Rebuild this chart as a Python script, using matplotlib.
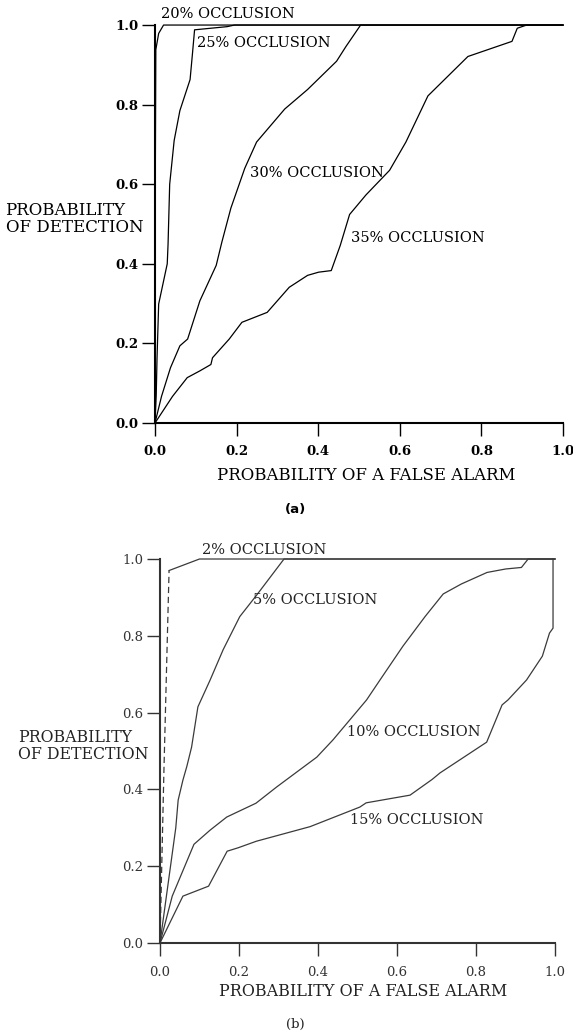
import matplotlib
matplotlib.use("Agg")
import matplotlib.pyplot as plt

# ---- panel (a) ----
a20_x = [0, 0.0, 0.002, 0.009, 0.021, 1.0]
a20_y = [0, 0.42, 0.938, 0.979, 1.0, 1.0]

a25_x = [0, 0.003, 0.005, 0.009, 0.03, 0.032, 0.036, 0.047, 0.061, 0.086, 0.092, 0.097, 0.177, 0.195, 1.0]
a25_y = [0, 0.07, 0.164, 0.299, 0.4, 0.449, 0.6, 0.71, 0.785, 0.863, 0.93, 0.988, 0.996, 1.0, 1.0]

a30_x = [0, 0.016, 0.038, 0.061, 0.08, 0.11, 0.15, 0.164, 0.186, 0.22, 0.249, 0.318, 0.374, 0.445, 0.468, 0.504, 1.0]
a30_y = [0, 0.067, 0.139, 0.194, 0.211, 0.307, 0.396, 0.455, 0.54, 0.64, 0.706, 0.789, 0.838, 0.909, 0.946, 1.0, 1.0]

a35_x = [0, 0.043, 0.079, 0.11, 0.137, 0.141, 0.182, 0.213, 0.275, 0.329, 0.374, 0.401, 0.432, 0.454,
         0.477, 0.517, 0.575, 0.615, 0.669, 0.767, 0.875, 0.888, 0.911, 1.0]
a35_y = [0, 0.067, 0.114, 0.131, 0.147, 0.164, 0.211, 0.253, 0.278, 0.341, 0.371, 0.379, 0.383, 0.446,
         0.524, 0.573, 0.635, 0.706, 0.822, 0.921, 0.959, 0.992, 1.0, 1.0]

# ---- panel (b) ----
b2_dash_x = [0, 0.01, 0.023]
b2_dash_y = [0, 0.45, 0.97]
b2_x = [0.023, 0.1, 1.0]
b2_y = [0.97, 1.0, 1.0]

b5_x = [0, 0.02, 0.04, 0.046, 0.058, 0.068, 0.08, 0.096, 0.127, 0.16, 0.202, 0.244, 0.314, 1.0]
b5_y = [0, 0.15, 0.3, 0.372, 0.424, 0.46, 0.51, 0.615, 0.685, 0.764, 0.85, 0.905, 1.0, 1.0]

b10_x = [0, 0.031, 0.086, 0.127, 0.169, 0.243, 0.295, 0.397, 0.438, 0.523, 0.557, 0.615, 0.671, 0.717,
         0.763, 0.828, 0.875, 0.915, 0.932, 1.0]
b10_y = [0, 0.122, 0.257, 0.294, 0.328, 0.364, 0.406, 0.484, 0.529, 0.633, 0.685, 0.773, 0.85, 0.909,
         0.935, 0.965, 0.974, 0.978, 1.0, 1.0]

b15_x = [0, 0.058, 0.123, 0.17, 0.198, 0.244, 0.38, 0.506, 0.522, 0.633, 0.689, 0.709, 0.827, 0.866,
         0.881, 0.928, 0.968, 0.986, 0.995, 0.995]
b15_y = [0, 0.122, 0.148, 0.239, 0.248, 0.265, 0.303, 0.354, 0.365, 0.385, 0.426, 0.443, 0.523, 0.62,
         0.633, 0.685, 0.747, 0.807, 0.82, 1.0]

ticks = [0.0, 0.2, 0.4, 0.6, 0.8, 1.0]
tick_labels = ["0.0", "0.2", "0.4", "0.6", "0.8", "1.0"]

plt.rcParams["font.family"] = "DejaVu Serif"

fig = plt.figure(figsize=(5.73, 10.35), dpi=100)
ax_a = fig.add_axes([0.2705, 0.5913, 0.712, 0.3845])
ax_b = fig.add_axes([0.2792, 0.0889, 0.6894, 0.371])


def style_axes(ax, color, weight, xpad):
    ax.set_xlim(0, 1)
    ax.set_ylim(0, 1)
    for s in ["top", "right"]:
        ax.spines[s].set_visible(False)
    for s in ["left", "bottom"]:
        ax.spines[s].set_linewidth(1.5)
        ax.spines[s].set_color(color)
    ax.set_xticks(ticks)
    ax.set_yticks(ticks)
    ax.set_xticklabels(tick_labels, fontsize=9.5, fontweight=weight, color=color)
    ax.set_yticklabels(tick_labels, fontsize=9.5, fontweight=weight, color=color)
    ax.tick_params(axis="x", direction="out", length=9.5, width=1, pad=xpad, colors=color)
    ax.tick_params(axis="y", direction="out", length=9.5, width=1, pad=2.5, colors=color)


style_axes(ax_a, "black", "bold", 6)
style_axes(ax_b, "#333333", "normal", 7)

lw = 0.9
for xs, ys in [(a20_x, a20_y), (a25_x, a25_y), (a30_x, a30_y), (a35_x, a35_y)]:
    ax_a.plot(xs, ys, color="black", lw=lw, clip_on=False)

gray = "#3a3a3a"
ax_b.plot(b2_dash_x, b2_dash_y, color=gray, lw=lw, ls=(0, (5, 3)), clip_on=False)
ax_b.plot(b2_x, b2_y, color=gray, lw=lw, clip_on=False)
for xs, ys in [(b5_x, b5_y), (b10_x, b10_y), (b15_x, b15_y)]:
    ax_b.plot(xs, ys, color=gray, lw=lw, clip_on=False)

lab = dict(fontsize=10.5, va="center", ha="left", clip_on=False)
ax_a.text(0.015, 1.028, "20% OCCLUSION", **lab)
ax_a.text(0.104, 0.955, "25% OCCLUSION", **lab)
ax_a.text(0.234, 0.628, "30% OCCLUSION", **lab)
ax_a.text(0.481, 0.465, "35% OCCLUSION", **lab)

ax_b.text(0.106, 1.023, "2% OCCLUSION", color="#222222", **lab)
ax_b.text(0.235, 0.894, "5% OCCLUSION", color="#222222", **lab)
ax_b.text(0.473, 0.55, "10% OCCLUSION", color="#222222", **lab)
ax_b.text(0.481, 0.32, "15% OCCLUSION", color="#222222", **lab)

fig.text(5.5 / 573, 1 - 219 / 1035, "PROBABILITY\nOF DETECTION", fontsize=12,
         ha="left", va="center", linespacing=1.0)
fig.text(18 / 573, 1 - 746 / 1035, "PROBABILITY\nOF DETECTION", fontsize=11.3,
         ha="left", va="center", linespacing=1.0, color="#222222")

fig.text(366 / 573, 1 - 475 / 1035, "PROBABILITY OF A FALSE ALARM", fontsize=11.9,
         ha="center", va="center")
fig.text(363 / 573, 1 - 992 / 1035, "PROBABILITY OF A FALSE ALARM", fontsize=11.5,
         ha="center", va="center", color="#222222")

fig.text(296 / 573, 1 - 510 / 1035, "(a)", fontsize=9.5, fontweight="bold",
         family="DejaVu Sans", ha="center", va="center")
fig.text(295 / 573, 1 - 1024 / 1035, "(b)", fontsize=9.5, ha="center", va="center",
         color="#222222")

fig.savefig("out.png", dpi=100)
